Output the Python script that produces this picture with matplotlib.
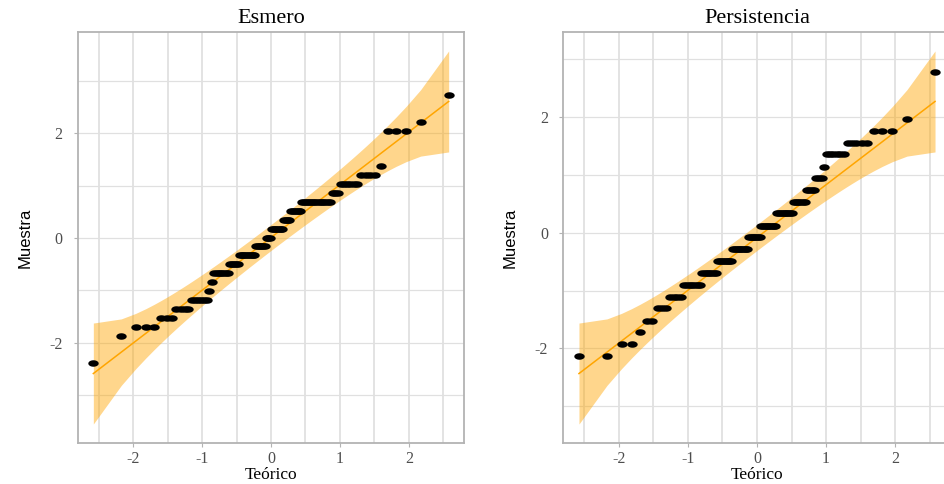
import numpy as np
import matplotlib
matplotlib.use("Agg")
import matplotlib.pyplot as plt
from matplotlib.path import Path
from matplotlib.ticker import FixedLocator, MultipleLocator
from statistics import NormalDist

# ---------------- data ----------------
titles = ["Esmero", "Persistencia"]
x_label = "Teórico"
y_label = "Muestra"
x_ticks = [-2, -1, 0, 1, 2]
y_ticks = [-2, 0, 2]

# distinct standardized sample values and how many observations sit at each
esmero_levels = [-2.38, -1.87, -1.70, -1.53, -1.36, -1.18, -1.01, -0.84,
                 -0.67, -0.50, -0.33, -0.16, 0.01, 0.18, 0.35, 0.52,
                 0.69, 0.86, 1.03, 1.20, 1.37, 2.05, 2.22, 2.73]
esmero_counts = [1, 1, 3, 3, 4, 6, 1, 1,
                 7, 5, 9, 6, 3, 7, 4, 6,
                 14, 3, 6, 4, 1, 3, 1, 1]

persist_levels = [-2.13, -1.92, -1.72, -1.52, -1.31, -1.11, -0.90, -0.70,
                  -0.49, -0.29, -0.08, 0.12, 0.33, 0.53, 0.74, 0.94,
                  1.14, 1.35, 1.55, 1.76, 1.96, 2.78]
persist_counts = [2, 2, 1, 2, 3, 4, 7, 7,
                  8, 9, 7, 9, 9, 6, 4, 3,
                  1, 6, 5, 3, 1, 1]

conf_level = 0.95

# ---------------- style ----------------
W, H = 945, 484
band_color = "#FFA500"
grid_color = "#e0e0e0"
border_color = "#b3b3b3"
tick_text_color = "#4d4d4d"
serif = ["Liberation Serif", "DejaVu Serif"]
sans = ["Liberation Sans Narrow", "Liberation Sans", "DejaVu Sans"]

tt = np.linspace(0, 2 * np.pi, 48)
ellipse = Path(np.column_stack([1.6 * np.cos(tt), np.sin(tt)]))

fig = plt.figure(figsize=(W / 100, H / 100), dpi=100)

bottom = (H - 442.7) / H
height = (442.7 - 32.3) / H
axes_boxes = [
    [77.7 / W, bottom, 386.6 / W, height],
    [563.3 / W, bottom, 387.4 / W, height],
]
ylabel_x = [-0.116, -0.119]

nd = NormalDist()


def qq_panel(ax, levels, counts, title, ylx):
    sample = np.sort(np.repeat(np.asarray(levels, float), counts))
    n = sample.size
    probs = (np.arange(1, n + 1) - 0.5) / n
    theo = np.array([nd.inv_cdf(p) for p in probs])
    qs = np.quantile(sample, [0.25, 0.75])
    qt = np.array([nd.inv_cdf(0.25), nd.inv_cdf(0.75)])
    slope = (qs[1] - qs[0]) / (qt[1] - qt[0])
    intercept = qs[0] - slope * qt[0]
    fit = intercept + slope * theo
    dens = np.array([nd.pdf(t) for t in theo])
    se = slope / dens * np.sqrt(probs * (1 - probs) / n)
    zz = nd.inv_cdf(1 - (1 - conf_level) / 2)

    ax.fill_between(theo, fit - zz * se, fit + zz * se, color=band_color,
                    alpha=0.45, lw=0, zorder=2)
    ax.plot(theo, fit, color=band_color, lw=1.1, zorder=3)
    ax.scatter(theo, sample, s=56, marker=ellipse, color="black", lw=0,
               zorder=4)

    ax.margins(x=0.044, y=0.05)
    ax.set_facecolor("white")
    ax.xaxis.set_major_locator(FixedLocator(x_ticks))
    ax.yaxis.set_major_locator(FixedLocator(y_ticks))
    ax.xaxis.set_minor_locator(MultipleLocator(0.5))
    ax.yaxis.set_minor_locator(MultipleLocator(1))
    ax.set_xticklabels([str(v) for v in x_ticks],
                       family=serif, fontsize=11.5, color=tick_text_color)
    ax.set_yticklabels([str(v) for v in y_ticks],
                       family=serif, fontsize=11.5, color=tick_text_color)
    ax.tick_params(axis="x", which="major", length=3, width=0.8,
                   color=border_color, pad=3.0)
    ax.tick_params(axis="y", which="major", length=3, width=0.8,
                   color=border_color, pad=8)
    ax.tick_params(which="minor", length=0)
    ax.xaxis.grid(True, which="both", color=grid_color, lw=1.3, zorder=0)
    ax.yaxis.grid(True, which="both", color=grid_color, lw=0.9, zorder=0)
    ax.set_axisbelow(True)
    for sp in ax.spines.values():
        sp.set_color(border_color)
        sp.set_linewidth(1.3)

    ax.set_title(title, family=serif, fontsize=16, pad=6.5)
    ax.set_xlabel(x_label, family=serif, fontsize=12.5, labelpad=0)
    ax.set_ylabel(y_label, family=sans, fontsize=12)
    ax.yaxis.set_label_coords(ylx, 0.5)


datasets = [(esmero_levels, esmero_counts), (persist_levels, persist_counts)]
for box, (lv, ct), title, ylx in zip(axes_boxes, datasets, titles, ylabel_x):
    ax = fig.add_axes(box)
    qq_panel(ax, lv, ct, title, ylx)

fig.savefig("out.png", dpi=100, facecolor="white")
